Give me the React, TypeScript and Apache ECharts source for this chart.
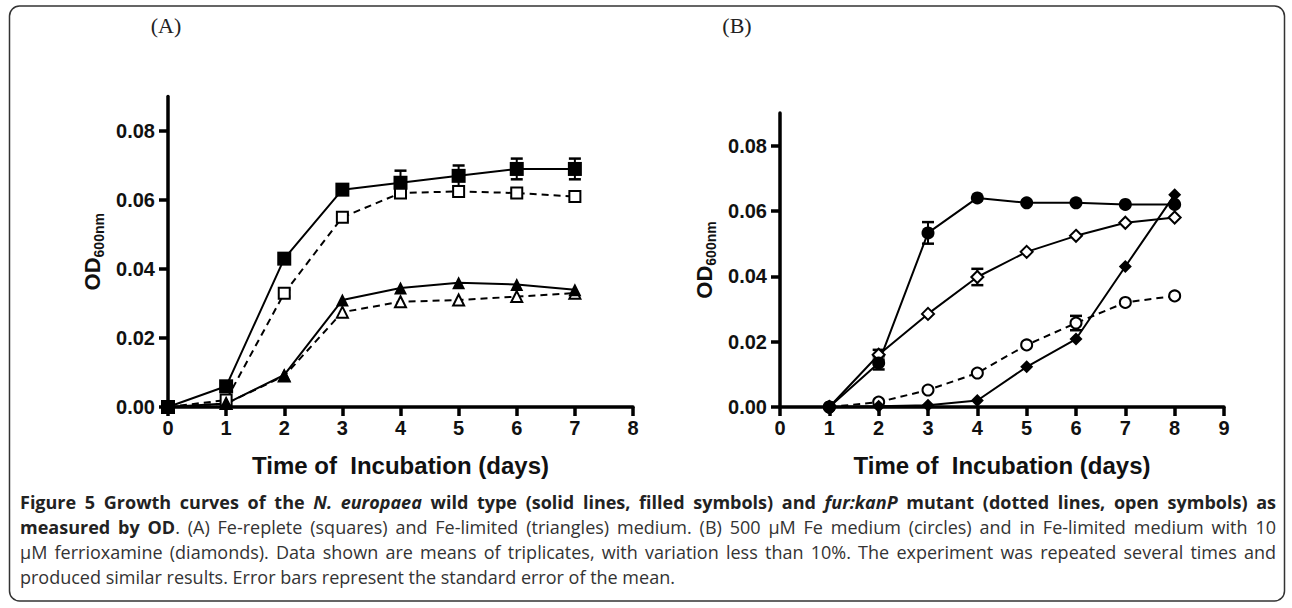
import React, { useEffect, useRef } from "react";
import * as echarts from "echarts";

// ---------- Data ----------
const daysA = [0, 1, 2, 3, 4, 5, 6, 7];
const wtRepleteA = [0.0, 0.006, 0.043, 0.063, 0.065, 0.067, 0.069, 0.069];
const wtRepleteErrA = [0, 0.001, 0.001, 0.001, 0.0035, 0.003, 0.003, 0.003];
const mutRepleteA = [0.0, 0.002, 0.033, 0.055, 0.062, 0.0625, 0.062, 0.061];
const mutRepleteErrA = [0, 0, 0.001, 0.001, 0.001, 0.001, 0.0012, 0.001];
const wtLimitedA = [0.0, 0.001, 0.0093, 0.031, 0.0345, 0.036, 0.0355, 0.034];
const mutLimitedA = [0.0, 0.001, 0.009, 0.0275, 0.0305, 0.031, 0.032, 0.033];

const daysB = [1, 2, 3, 4, 5, 6, 7, 8];
const wt500FeB = [0.0, 0.0135, 0.0533, 0.064, 0.0625, 0.0625, 0.062, 0.062];
const wt500FeErrB = [0, 0.002, 0.0033, 0, 0, 0, 0, 0];
const wtFerriB = [0.0, 0.0002, 0.0005, 0.002, 0.0123, 0.0208, 0.043, 0.065];
const mut500FeB = [0.0, 0.0015, 0.0052, 0.0104, 0.019, 0.0257, 0.032, 0.034];
const mut500FeErrB = [0, 0, 0, 0, 0, 0.0022, 0, 0];
const mutFerriB = [0.0, 0.016, 0.0285, 0.0398, 0.0475, 0.0524, 0.0564, 0.058];
const mutFerriErrB = [0, 0.0015, 0, 0.0025, 0, 0, 0, 0];

const yTicks = [0, 0.02, 0.04, 0.06, 0.08];
const xTitle = "Time of  Incubation (days)";
const panelLabels = ["(A)", "(B)"];

const captionLines: [string, string][][] = [
  [
    ["b", "Figure 5 Growth curves of the "],
    ["bi", "N. europaea"],
    ["b", " wild type (solid lines, filled symbols) and "],
    ["bi", "fur:kanP"],
    ["b", " mutant (dotted lines, open symbols) as"],
  ],
  [
    ["b", "measured by OD"],
    ["r", ". (A) Fe-replete (squares) and Fe-limited (triangles) medium. (B) 500 µM Fe medium (circles) and in Fe-limited medium with 10"],
  ],
  [["r", "µM ferrioxamine (diamonds). Data shown are means of triplicates, with variation less than 10%. The experiment was repeated several times and"]],
  [["r", "produced similar results. Error bars represent the standard error of the mean."]],
];

// ---------- Helpers ----------
const AX_FONT = '"Liberation Sans", Arial, sans-serif';
const CAP_FONT = '"Open Sans", "Noto Sans", sans-serif';
const CAP_SIZE = 18;

function lineSeries(ax: number, days: number[], vals: number[], symbol: string, filled: boolean, dashed: boolean, size: number) {
  return {
    type: "line",
    xAxisIndex: ax,
    yAxisIndex: ax,
    data: days.map((d, i) => [d, vals[i]]),
    symbol,
    symbolSize: size,
    showSymbol: true,
    lineStyle: { color: "#000", width: 2, type: dashed ? [7, 5] : "solid" },
    itemStyle: { color: filled ? "#000" : "#fff", borderColor: "#000", borderWidth: filled ? 0 : 2 },
    z: 3,
    silent: true,
  };
}

function errSeries(ax: number, days: number[], vals: number[], errs: number[]) {
  const data = days
    .map((d, i) => [d, vals[i] - errs[i], vals[i] + errs[i]])
    .filter((_, i) => errs[i] > 0);
  return {
    type: "custom",
    xAxisIndex: ax,
    yAxisIndex: ax,
    data,
    z: 2,
    silent: true,
    encode: { x: 0, y: [1, 2] },
    renderItem: (_p: any, api: any) => {
      const x = api.value(0);
      const lo = api.coord([x, api.value(1)]);
      const hi = api.coord([x, api.value(2)]);
      const w = 6;
      return {
        type: "group",
        children: [
          { type: "line", shape: { x1: lo[0], y1: lo[1], x2: hi[0], y2: hi[1] }, style: { stroke: "#000", lineWidth: 2 } },
          { type: "line", shape: { x1: hi[0] - w, y1: hi[1], x2: hi[0] + w, y2: hi[1] }, style: { stroke: "#000", lineWidth: 2.5 } },
          { type: "line", shape: { x1: lo[0] - w, y1: lo[1], x2: lo[0] + w, y2: lo[1] }, style: { stroke: "#000", lineWidth: 2.5 } },
        ],
      };
    },
  };
}

function xAxisDef(grid: number, max: number) {
  return {
    gridIndex: grid,
    type: "value",
    min: 0,
    max,
    interval: 1,
    axisLine: { onZero: false, lineStyle: { color: "#000", width: 3.5 } },
    axisTick: { length: 9, lineStyle: { color: "#000", width: 3.5 } },
    axisLabel: { color: "#111", fontFamily: AX_FONT, fontWeight: "bold", fontSize: 20, margin: 11 },
    splitLine: { show: false },
    name: xTitle,
    nameLocation: "middle",
    nameGap: 46,
    nameTextStyle: { color: "#111", fontFamily: AX_FONT, fontWeight: "bold", fontSize: 24 },
  };
}

function yAxisDef(grid: number) {
  return {
    gridIndex: grid,
    type: "value",
    min: 0,
    max: 0.09,
    interval: 0.02,
    axisLine: { onZero: false, lineStyle: { color: "#000", width: 3.5 } },
    axisTick: { length: 9, lineStyle: { color: "#000", width: 3.5 }, customValues: yTicks },
    axisLabel: {
      color: "#111",
      fontFamily: AX_FONT,
      fontWeight: "bold",
      fontSize: 20,
      margin: 13,
      customValues: yTicks,
      formatter: (v: number) => v.toFixed(2),
    },
    splitLine: { show: false },
    name: "{a|OD}{b|600nm}",
    nameLocation: "middle",
    nameRotate: 90,
    nameGap: 62,
    nameTextStyle: {
      color: "#111",
      rich: {
        a: { fontFamily: AX_FONT, fontWeight: "bold", fontSize: 22, lineHeight: 28, color: "#111" },
        b: { fontFamily: AX_FONT, fontWeight: "bold", fontSize: 14, lineHeight: 28, verticalAlign: "bottom", color: "#111" },
      },
    },
  };
}

function buildCaption() {
  const canvas = document.createElement("canvas");
  const ctx = canvas.getContext("2d")!;
  const fontOf = (s: string) => `${s.includes("i") ? "italic " : ""}${s.includes("b") ? "bold " : ""}${CAP_SIZE}px ${CAP_FONT}`;
  const left = 20;
  const right = 1276;
  const W = right - left;
  const centers = [502, 527, 552, 577];
  const elements: any[] = [];
  captionLines.forEach((runs, li) => {
    const tokens: { s: string; t: string }[] = [];
    runs.forEach(([s, t]) => {
      t.split(/( )/).forEach((p) => {
        if (p === "") return;
        tokens.push({ s: p === " " ? "sp" : s, t: p });
      });
    });
    let wordW = 0;
    let nSp = 0;
    tokens.forEach((tk) => {
      if (tk.s === "sp") nSp++;
      else {
        ctx.font = fontOf(tk.s);
        wordW += ctx.measureText(tk.t).width;
      }
    });
    ctx.font = fontOf("r");
    const natural = ctx.measureText(" ").width;
    const gap = li < captionLines.length - 1 && nSp > 0 ? Math.max(2, (W - wordW) / nSp) : natural;
    const text = tokens.map((tk) => `{${tk.s}|${tk.t}}`).join("");
    const base = { fontFamily: CAP_FONT, fontSize: CAP_SIZE, fill: "#333" };
    elements.push({
      type: "text",
      x: left,
      y: centers[li],
      silent: true,
      style: {
        text,
        verticalAlign: "middle",
        ...base,
        rich: {
          r: { ...base, fontWeight: "normal" },
          b: { ...base, fontWeight: "bold", fill: "#222" },
          bi: { ...base, fontWeight: "bold", fontStyle: "italic", fill: "#222" },
          sp: { ...base, width: gap },
        },
      },
    });
  });
  return elements;
}

export default function App() {
  const ref = useRef<HTMLDivElement>(null);
  useEffect(() => {
    if (!ref.current) return;
    const chart = echarts.init(ref.current, undefined, { renderer: "svg" });
    const option: any = {
      animation: false,
      backgroundColor: "#fff",
      grid: [
        { left: 168, top: 96.5, width: 465, height: 310.5 },
        { left: 780, top: 113, width: 444, height: 294 },
      ],
      xAxis: [xAxisDef(0, 8), xAxisDef(1, 9)],
      yAxis: [yAxisDef(0), yAxisDef(1)],
      series: [
        errSeries(0, daysA, wtRepleteA, wtRepleteErrA),
        errSeries(0, daysA, mutRepleteA, mutRepleteErrA),
        lineSeries(0, daysA, mutRepleteA, "rect", false, true, 11),
        lineSeries(0, daysA, mutLimitedA, "triangle", false, true, 11),
        lineSeries(0, daysA, wtLimitedA, "triangle", true, false, 13),
        lineSeries(0, daysA, wtRepleteA, "rect", true, false, 14),
        errSeries(1, daysB, wt500FeB, wt500FeErrB),
        errSeries(1, daysB, mut500FeB, mut500FeErrB),
        errSeries(1, daysB, mutFerriB, mutFerriErrB),
        lineSeries(1, daysB, mut500FeB, "circle", false, true, 11),
        lineSeries(1, daysB, wtFerriB, "diamond", true, false, 13),
        lineSeries(1, daysB, mutFerriB, "diamond", false, false, 12),
        lineSeries(1, daysB, wt500FeB, "circle", true, false, 13),
      ],
      graphic: [
        {
          type: "rect",
          silent: true,
          shape: { x: 9.5, y: 6, width: 1275, height: 595, r: 10 },
          style: { fill: "none", stroke: "#333", lineWidth: 1.5 },
        },
        {
          type: "text",
          x: 166,
          y: 25,
          silent: true,
          style: { text: panelLabels[0], fontFamily: '"Liberation Serif", serif', fontSize: 22, fill: "#222", align: "center", verticalAlign: "middle" },
        },
        {
          type: "text",
          x: 737,
          y: 25,
          silent: true,
          style: { text: panelLabels[1], fontFamily: '"Liberation Serif", serif', fontSize: 22, fill: "#222", align: "center", verticalAlign: "middle" },
        },
        ...buildCaption(),
      ],
    };
    chart.setOption(option);
    return () => chart.dispose();
  }, []);
  return <div ref={ref} style={{ position: "absolute", left: 0, top: 0, width: 1292, height: 608 }} />;
}
